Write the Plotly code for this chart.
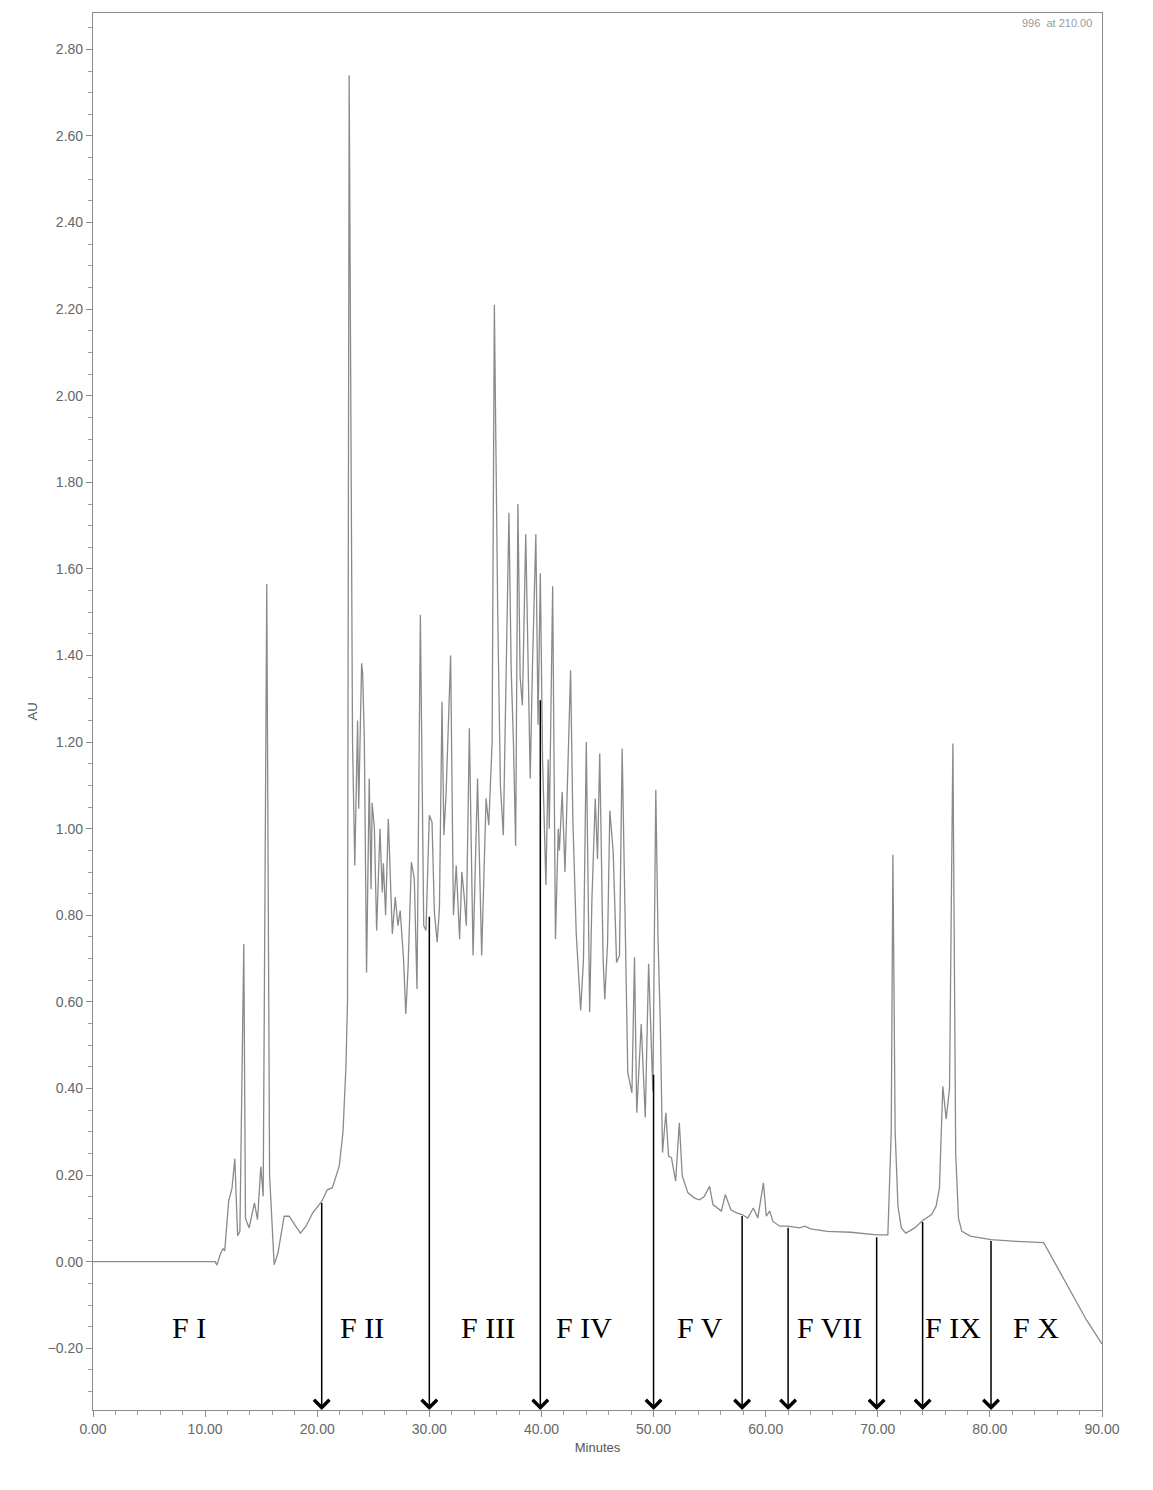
import plotly.graph_objects as go

# ---- chromatogram trace (minutes, AU) ----
time_min = [
    0.0, 10.9, 11.05, 11.4, 11.6, 11.75, 12.1, 12.4, 12.65, 12.9, 13.1, 13.45, 13.6, 13.93,
    14.4, 14.67, 14.97, 15.18, 15.5, 15.75, 16.16, 16.5, 17.05, 17.5, 18.0, 18.5, 19.0,
    19.6, 20.4, 20.9, 21.35, 21.96, 22.3, 22.56, 22.7, 22.85, 23.15, 23.35, 23.6, 23.7,
    23.96, 24.05, 24.2, 24.4, 24.64, 24.8, 24.9, 25.1, 25.3, 25.6, 25.8, 25.9, 26.1,
    26.34, 26.7, 26.96, 27.2, 27.4, 27.7, 27.9, 28.1, 28.4, 28.66, 28.9, 29.2, 29.5,
    29.7, 30.0, 30.24, 30.45, 30.7, 30.9, 31.13, 31.3, 31.5, 31.9, 32.15, 32.4, 32.7,
    32.9, 33.1, 33.3, 33.57, 33.9, 34.3, 34.67, 35.06, 35.3, 35.6, 35.8, 36.1, 36.34,
    36.6, 37.1, 37.3, 37.5, 37.7, 37.9, 38.1, 38.3, 38.6, 38.8, 39.0, 39.2, 39.5, 39.7,
    39.9, 40.1, 40.4, 40.6, 40.7, 41.0, 41.25, 41.5, 41.6, 41.85, 42.1, 42.6, 42.8,
    43.1, 43.5, 43.75, 44.0, 44.3, 44.5, 44.8, 45.0, 45.2, 45.5, 45.65, 45.9, 46.1,
    46.4, 46.7, 46.96, 47.2, 47.5, 47.7, 48.07, 48.3, 48.5, 48.9, 49.26, 49.56, 49.94,
    50.2, 50.4, 50.6, 50.8, 51.1, 51.34, 51.6, 51.97, 52.3, 52.56, 53.07, 53.66, 54.1,
    54.5, 55.0, 55.3, 55.75, 56.05, 56.4, 56.9, 57.4, 57.9, 58.4, 58.9, 59.3, 59.8,
    60.06, 60.36, 60.65, 61.25, 62.0, 63.0, 63.5, 64.0, 65.5, 67.6, 69.9, 70.9, 71.2,
    71.35, 71.55, 71.8, 72.1, 72.5, 73.3, 74.0, 74.8, 75.2, 75.5, 75.8, 76.1, 76.4,
    76.7, 76.95, 77.2, 77.5, 78.25, 80.1, 82.35, 84.8, 88.6, 90.0,
]
absorbance_au = [
    0.0, 0.0, -0.008, 0.02, 0.03, 0.025, 0.14, 0.17, 0.238, 0.06, 0.07, 0.734, 0.10, 0.078,
    0.136, 0.097, 0.22, 0.151, 1.565, 0.20, -0.007, 0.02, 0.105, 0.105, 0.085, 0.066, 0.082,
    0.113, 0.139, 0.166, 0.171, 0.22, 0.30, 0.45, 0.60, 2.74, 1.20, 0.915, 1.25, 1.046,
    1.382, 1.36, 1.21, 0.668, 1.116, 0.86, 1.06, 1.0, 0.765, 1.0, 0.853, 0.92, 0.80,
    1.023, 0.757, 0.842, 0.776, 0.811, 0.699, 0.572, 0.676, 0.923, 0.884, 0.63, 1.494, 0.776,
    0.765, 1.031, 1.015, 0.807, 0.738, 0.815, 1.293, 0.985, 1.085, 1.40, 0.80, 0.915, 0.745,
    0.90, 0.846, 0.776, 1.232, 0.707, 1.116, 0.707, 1.07, 1.008, 1.20, 2.21, 1.50, 1.10,
    0.985, 1.73, 1.37, 1.20, 0.96, 1.75, 1.35, 1.285, 1.68, 1.40, 1.116, 1.378, 1.68, 1.24,
    1.59, 1.16, 0.87, 1.16, 1.0, 1.56, 0.745, 1.0, 0.95, 1.085, 0.90, 1.366, 1.023,
    0.76, 0.58, 0.699, 1.20, 0.576, 0.834, 1.07, 0.93, 1.174, 0.699, 0.606, 0.738, 1.042,
    0.946, 0.691, 0.707, 1.185, 0.699, 0.437, 0.39, 0.703, 0.344, 0.549, 0.333, 0.688, 0.394,
    1.09, 0.745, 0.552, 0.252, 0.344, 0.244, 0.24, 0.186, 0.321, 0.198, 0.159, 0.147, 0.143,
    0.15, 0.174, 0.132, 0.124, 0.117, 0.155, 0.12, 0.113, 0.109, 0.101, 0.124, 0.101, 0.182,
    0.105, 0.117, 0.093, 0.082, 0.082, 0.078, 0.082, 0.076, 0.07, 0.068, 0.062, 0.062, 0.30,
    0.94, 0.30, 0.128, 0.078, 0.066, 0.078, 0.095, 0.109, 0.128, 0.17, 0.405, 0.33, 0.40,
    1.197, 0.25, 0.10, 0.07, 0.059, 0.051, 0.047, 0.044, -0.134, -0.19,
]

# ---- fraction cut arrows ----
cut_times = [20.4, 30.0, 39.9, 50.0, 57.9, 62.0, 69.9, 74.0, 80.1]
cut_start_au = [0.139, 0.80, 1.30, 0.435, 0.109, 0.082, 0.060, 0.095, 0.051]

# ---- fraction labels ----
fraction_labels = ["F I", "F II", "F III", "F IV", "F V", "F VII", "F IX", "F X"]
fraction_label_t = [8.6, 24.0, 35.2, 43.8, 54.1, 65.7, 76.7, 84.1]

Y_MIN, Y_MAX = -0.3425, 2.884

fig = go.Figure()
fig.add_trace(go.Scatter(
    x=time_min, y=absorbance_au, mode="lines",
    line=dict(color="#8a8a8a", width=1.3),
    showlegend=False, hoverinfo="skip",
))

annotations = []
for t, top in zip(cut_times, cut_start_au):
    annotations.append(dict(
        x=t, y=Y_MIN, ax=t, ay=top, xref="x", yref="y", axref="x", ayref="y",
        text="", showarrow=True, arrowhead=4, arrowsize=2.0, arrowwidth=1.5,
        arrowcolor="black", standoff=0, startstandoff=0,
    ))
for lab, t in zip(fraction_labels, fraction_label_t):
    annotations.append(dict(
        x=t, y=-0.153, xref="x", yref="y", text=lab, showarrow=False,
        font=dict(family="Liberation Serif, Times New Roman, serif", size=30, color="black"),
        xanchor="center", yanchor="middle",
    ))
annotations.append(dict(
    x=1, y=1, xref="paper", yref="paper", text="996  at 210.00", showarrow=False,
    xanchor="right", yanchor="top", xshift=-8, yshift=-2,
    font=dict(family="Liberation Sans, Arial, sans-serif", size=11, color="#999999"),
))

axis_font = dict(family="Liberation Sans, Arial, sans-serif", size=14, color="#666666")
fig.update_layout(
    width=1153, height=1490,
    margin=dict(l=85, r=59, t=5, b=88, autoexpand=False),
    paper_bgcolor="white", plot_bgcolor="white",
    annotations=annotations,
    xaxis=dict(
        range=[0, 90], tick0=0, dtick=10, tickformat=".2f",
        showgrid=False, zeroline=False, showline=True, linecolor="#8c8c8c", linewidth=1.2,
        mirror=True, ticks="outside", ticklen=6, tickcolor="#8c8c8c", tickfont=axis_font,
        minor=dict(dtick=2, tick0=0, ticks="outside", ticklen=4, tickcolor="#999999", showgrid=False),
        title=dict(text="Minutes", font=dict(family="Liberation Sans, Arial, sans-serif", size=13, color="#555555"), standoff=6),
    ),
    yaxis=dict(
        range=[Y_MIN, Y_MAX], tick0=0, dtick=0.2, tickformat=".2f",
        showgrid=False, zeroline=False, showline=True, linecolor="#8c8c8c", linewidth=1.2,
        mirror=True, ticks="outside", ticklen=6, tickcolor="#8c8c8c", tickfont=axis_font,
        minor=dict(dtick=0.05, tick0=0, ticks="outside", ticklen=4, tickcolor="#999999", showgrid=False),
        title=dict(text="AU", font=dict(family="Liberation Sans, Arial, sans-serif", size=13, color="#555555"), standoff=7),
    ),
)

fig.write_html("out.html")
